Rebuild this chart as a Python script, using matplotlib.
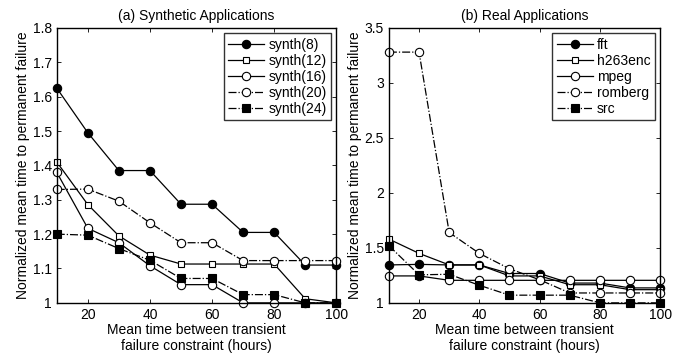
import matplotlib
matplotlib.use("Agg")
import matplotlib.pyplot as plt
from matplotlib.ticker import FuncFormatter

plt.rcParams['font.family'] = ['Liberation Sans', 'DejaVu Sans']

hours = [10, 20, 30, 40, 50, 60, 70, 80, 90, 100]

# (a) synthetic applications
synth_names = ['synth(8)', 'synth(12)', 'synth(16)', 'synth(20)', 'synth(24)']
synth8 = [1.625, 1.495, 1.385, 1.385, 1.287, 1.287, 1.205, 1.205, 1.11, 1.11]
synth12 = [1.41, 1.286, 1.195, 1.139, 1.113, 1.113, 1.113, 1.113, 1.012, 1.0]
synth16 = [1.38, 1.217, 1.175, 1.108, 1.053, 1.053, 1.0, 1.0, 1.0, 1.0]
synth20 = [1.33, 1.331, 1.296, 1.233, 1.175, 1.175, 1.123, 1.123, 1.123, 1.123]
synth24 = [1.2, 1.197, 1.158, 1.124, 1.071, 1.071, 1.024, 1.024, 1.0, 1.0]

# (b) real applications
real_names = ['fft', 'h263enc', 'mpeg', 'romberg', 'src']
fft = [1.345, 1.35, 1.345, 1.345, 1.267, 1.267, 1.18, 1.18, 1.136, 1.136]
h263enc = [1.58, 1.45, 1.345, 1.345, 1.245, 1.245, 1.165, 1.165, 1.12, 1.12]
mpeg = [1.245, 1.245, 1.205, 1.205, 1.205, 1.205, 1.205, 1.205, 1.205, 1.205]
romberg = [3.28, 3.28, 1.64, 1.45, 1.31, 1.21, 1.09, 1.09, 1.09, 1.09]
src = [1.52, 1.255, 1.26, 1.16, 1.07, 1.07, 1.07, 1.0, 1.0, 1.0]

# line style / marker per series position (same scheme in both panels)
styles = [
    dict(ls='-', marker='o', mfc='black'),
    dict(ls='-', marker='s', mfc='white', ms=4.5),
    dict(ls='-', marker='o', mfc='white'),
    dict(ls='-.', marker='o', mfc='white'),
    dict(ls='-.', marker='s', mfc='black'),
]

fig = plt.figure(figsize=(6.92, 3.58), dpi=100)
ax1 = fig.add_axes([0.082, 0.154, 0.404, 0.768])
ax2 = fig.add_axes([0.562, 0.154, 0.392, 0.768])


def draw(ax, names, series, ylim, yticks, title):
    for name, ys, st in zip(names, series, styles):
        kw = dict(color='black', mec='black', lw=0.9, ms=6, mew=0.8, clip_on=False)
        kw.update(st)
        ax.plot(hours, ys, label=name, **kw)
    ax.set_xlim(10, 100)
    ax.set_ylim(*ylim)
    ax.set_xticks([20, 40, 60, 80, 100])
    ax.set_yticks(yticks)
    ax.yaxis.set_major_formatter(FuncFormatter(lambda v, p: ('%g' % round(v, 2))))
    ax.tick_params(direction='in', top=True, right=True, labelsize=10, length=3, width=0.6)
    for sp in ax.spines.values():
        sp.set_linewidth(1.0)
    ax.set_title(title, fontsize=10, pad=6)
    ax.set_xlabel('Mean time between transient\nfailure constraint (hours)', fontsize=10, labelpad=1)
    ax.set_ylabel('Normalized mean time to permanent failure', fontsize=10, labelpad=2)
    leg = ax.legend(loc='upper right', fontsize=10, frameon=True, fancybox=False,
                    edgecolor='black', handlelength=2.6, handletextpad=0.3,
                    labelspacing=0.15, borderpad=0.3, borderaxespad=0.4)
    leg.get_frame().set_linewidth(1.0)


draw(ax1, synth_names, [synth8, synth12, synth16, synth20, synth24],
     (1.0, 1.8), [1.0, 1.1, 1.2, 1.3, 1.4, 1.5, 1.6, 1.7, 1.8],
     '(a) Synthetic Applications')
draw(ax2, real_names, [fft, h263enc, mpeg, romberg, src],
     (1.0, 3.5), [1.0, 1.5, 2.0, 2.5, 3.0, 3.5],
     '(b) Real Applications')

fig.savefig('out.png', dpi=100)
